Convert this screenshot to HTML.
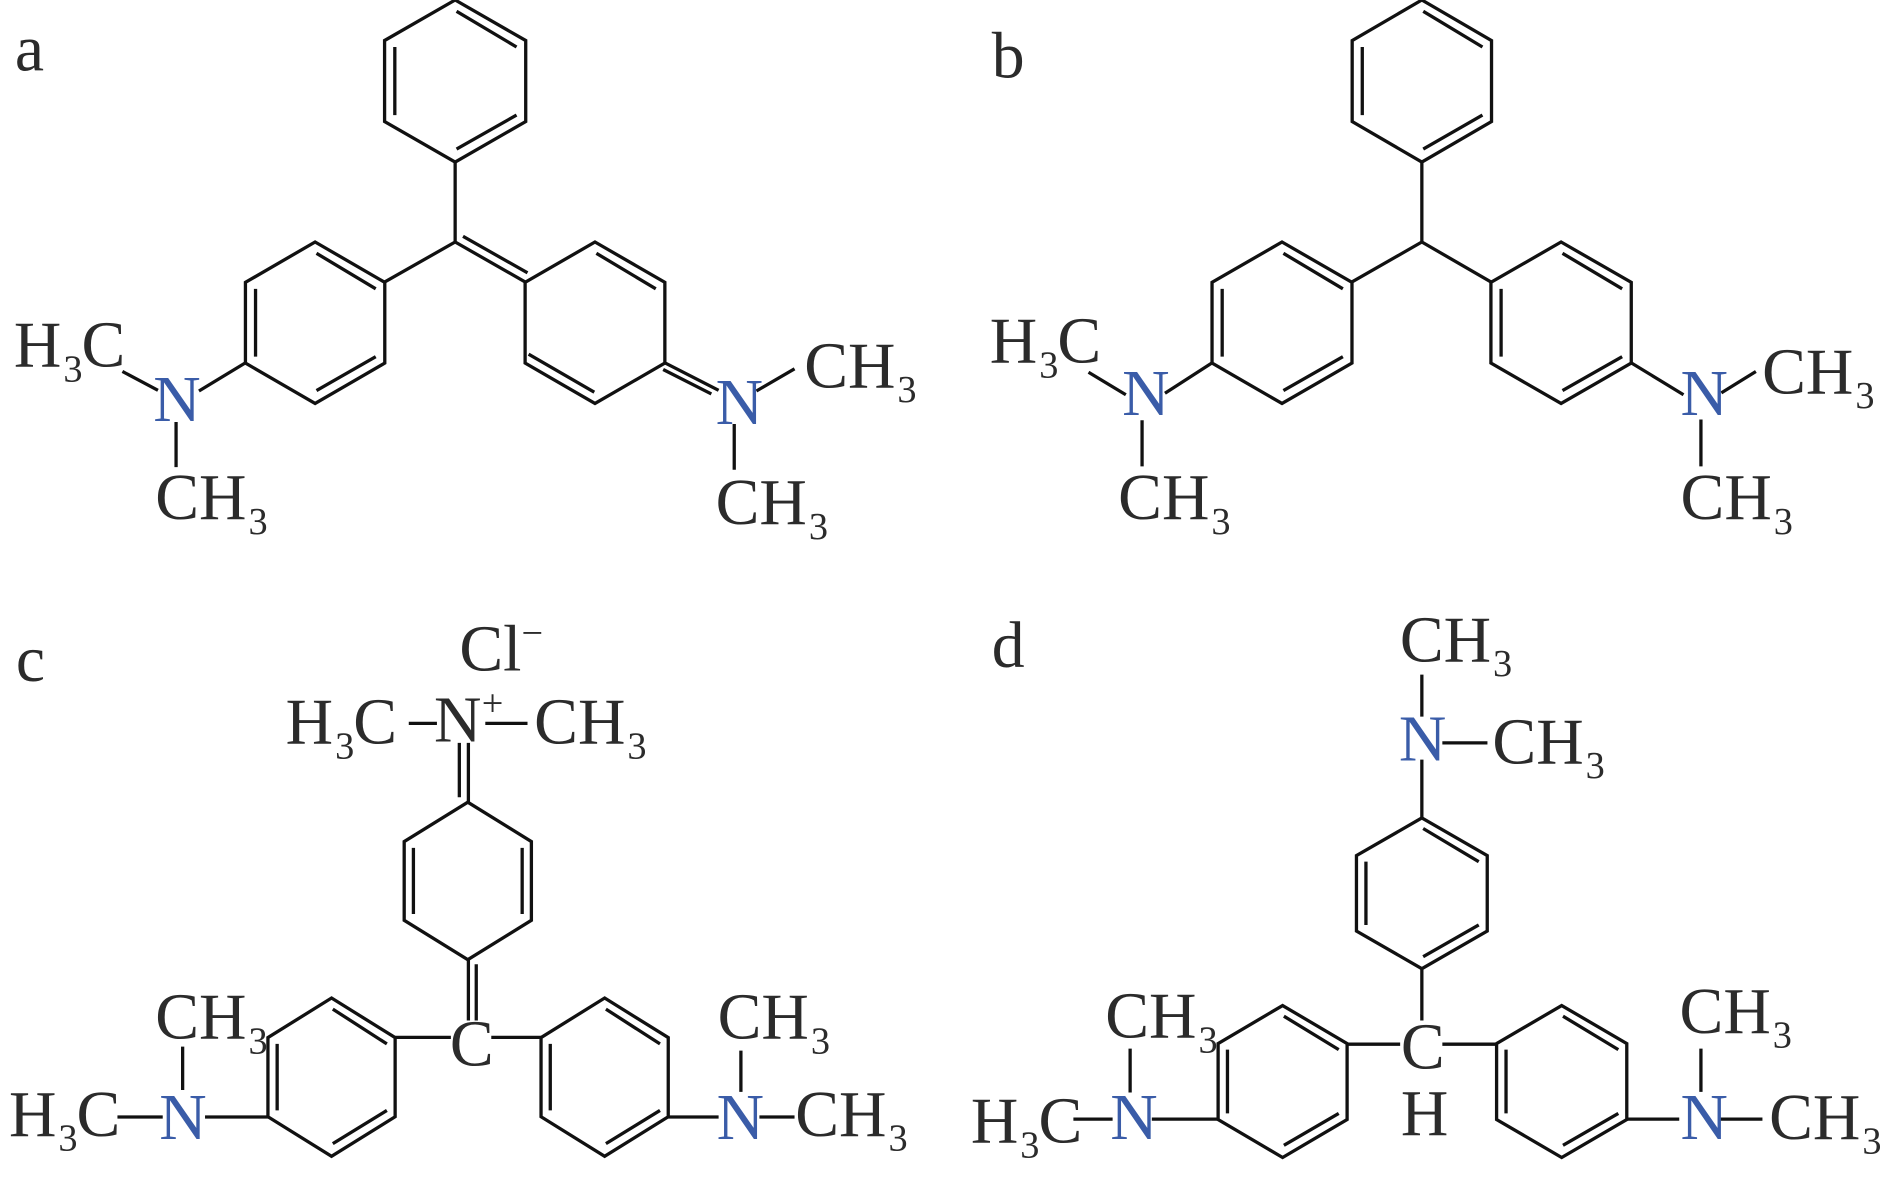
<!DOCTYPE html>
<html lang="en">
<head>
<meta charset="utf-8">
<title>Molecular structures a–d</title>
<style>
html,body{margin:0;padding:0;background:#fff;width:1890px;height:1178px;overflow:hidden}
svg{display:block}
text{font-family:"Liberation Serif",serif;font-size:66px;fill:#2b2b2b}
tspan.s,text.s{font-size:38.5px}
text.n{fill:#3a5ca8}
.b{stroke:#111;stroke-width:3.3;fill:none;stroke-linecap:butt;stroke-linejoin:miter}
</style>
</head>
<body>
<svg width="1890" height="1178" viewBox="0 0 1890 1178">
<defs>
<path id="hA" vector-effect="non-scaling-stroke" d="M0 -1L1 -.5V.5L0 1L-1 .5V-.5ZM.02 -.86L.87 -.42M-.855 -.42V.42M.87 .42L.02 .84"/>
<path id="hQ" vector-effect="non-scaling-stroke" d="M0 -1L1 -.5V.5L0 1L-1 .5V-.5ZM.02 -.86L.87 -.42M-.95 .39L-.01 .86"/>
<path id="hV" vector-effect="non-scaling-stroke" d="M0 -1L1 -.5V.5L0 1L-1 .5V-.5ZM-.855 -.42V.42M.855 -.42V.42"/>
</defs>

<!-- a -->
<g transform="scale(.9953 .9906)">
<g class="b">
<use href="#hA" transform="translate(457.3 81.8) scale(70.9 81.8)"/>
<use href="#hA" transform="translate(316.6 325.8) scale(70 81.5)"/>
<use href="#hQ" transform="translate(597.8 325.8) scale(70.2 81.5)"/>
<path d="M457.3 163.6V244.3M386.6 284.6L457.3 244.3L527.6 284.6M465.2 238.6L530 275.4"/>
<path d="M123 375L158.7 394M199.9 394.7L246.5 366.3M176.9 426V471.6"/>
<path d="M668 366.3L722 394M666.3 373L714.7 397.7M760 394.7L798.3 372.3M737.7 428V474.2"/>
</g>
<text x="15" y="71">a</text>
<text x="14" y="370">H<tspan class="s" dx="2" dy="15">3</tspan><tspan dx="-1" dy="-15">C</tspan></text>
<text class="n" x="154" y="425">N</text>
<text x="156" y="524">CH<tspan class="s" dx="2" dy="15">3</tspan></text>
<text class="n" x="719" y="428">N</text>
<text x="808" y="391">CH<tspan class="s" dx="2" dy="15">3</tspan></text>
<text x="719" y="529">CH<tspan class="s" dx="2" dy="15">3</tspan></text>
</g>

<!-- b -->
<g transform="translate(945 0) scale(.9953 .9906) translate(-945 0)">
<g class="b">
<use href="#hA" transform="translate(1424.1 81.8) scale(70 81.8)"/>
<use href="#hA" transform="translate(1283.6 325.8) scale(70.3 81.5)"/>
<use href="#hA" transform="translate(1564 325.8) scale(70.5 81.5)"/>
<path d="M1424.1 163.6V244.3M1353.9 284.6L1424.1 244.3L1493.5 284.6"/>
<path d="M1089.2 375.8L1126.7 398.5M1166 397L1213.3 366.3M1143 424.2V470.8"/>
<path d="M1634.5 366.3L1687 398.5M1725 396.6L1759.7 375M1704.5 423.5V470.8"/>
</g>
<text x="992" y="78">b</text>
<text x="990" y="366">H<tspan class="s" dx="2" dy="15">3</tspan><tspan dx="-1" dy="-15">C</tspan></text>
<text class="n" x="1123" y="419">N</text>
<text x="1119" y="524">CH<tspan class="s" dx="2" dy="15">3</tspan></text>
<text class="n" x="1684" y="419">N</text>
<text x="1766" y="397">CH<tspan class="s" dx="2" dy="15">3</tspan></text>
<text x="1684" y="524">CH<tspan class="s" dx="2" dy="15">3</tspan></text>
</g>

<!-- c -->
<g transform="translate(0 589) scale(.9953 .9906) translate(0 -589)">
<g class="b">
<use href="#hV" transform="translate(470 883.7) scale(63.9 79.5)"/>
<use href="#hA" transform="translate(333.1 1081.8) scale(63.9 79.9)"/>
<use href="#hA" transform="translate(607.5 1081.8) scale(63.9 79.9)"/>
<path d="M461.5 744.3V799.2M470.6 744.3V804.2M470.6 963.2V1024.6M478.5 967.8V1024.6"/>
<path d="M397.3 1041.6H453M493.6 1041.6H543.6"/>
<path d="M118 1122H163.5M206 1122H269.5M183.5 1051V1094.7"/>
<path d="M671 1122H722M763 1122H798.3M744.4 1055V1096.6"/>
<path d="M410.7 724.6H439M487.6 724.6H530"/>
</g>
<text x="16" y="682">c</text>
<text x="461.5" y="671.5">Cl</text>
<text class="s" x="524" y="646">−</text>
<text x="287" y="745">H<tspan class="s" dx="2" dy="15">3</tspan><tspan dx="-1" dy="-15">C</tspan></text>
<text x="436" y="743">N</text>
<text class="s" x="484" y="716.5">+</text>
<text x="536.7" y="745">CH<tspan class="s" dx="2" dy="15">3</tspan></text>
<text x="156" y="1043">CH<tspan class="s" dx="2" dy="15">3</tspan></text>
<text x="9" y="1141">H<tspan class="s" dx="2" dy="15">3</tspan><tspan dx="-1" dy="-15">C</tspan></text>
<text class="n" x="160" y="1144">N</text>
<text x="452" y="1070">C</text>
<text x="721" y="1043">CH<tspan class="s" dx="2" dy="15">3</tspan></text>
<text class="n" x="720" y="1144">N</text>
<text x="799" y="1141">CH<tspan class="s" dx="2" dy="15">3</tspan></text>
</g>

<!-- d -->
<g transform="translate(945 589) scale(.9953 .9906) translate(-945 -589)">
<g class="b">
<use href="#hA" transform="translate(1424.1 896.2) scale(65.7 76.1)"/>
<use href="#hA" transform="translate(1284.2 1086.2) scale(64.8 76.7)"/>
<use href="#hA" transform="translate(1564.6 1086.2) scale(65.4 76.7)"/>
<path d="M1424.1 675.4V717.8M1424.1 761.3V820M1444.7 744.3H1490M1424.1 972.3V1024.6"/>
<path d="M1349 1048.5H1402.3M1444.7 1048.5H1499.2"/>
<path d="M1074 1124.2H1113.4M1152.8 1124.2H1219.4M1131 1053V1097.3"/>
<path d="M1630 1124.2H1682.7M1723.3 1124.2H1766.3M1704.5 1053V1096.6"/>
</g>
<text x="992" y="668">d</text>
<text x="1402" y="662">CH<tspan class="s" dx="2" dy="15">3</tspan></text>
<text class="n" x="1401" y="762">N</text>
<text x="1495" y="765">CH<tspan class="s" dx="2" dy="15">3</tspan></text>
<text x="1403" y="1073">C</text>
<text x="1403" y="1140">H</text>
<text x="1106" y="1042">CH<tspan class="s" dx="2" dy="15">3</tspan></text>
<text x="971" y="1148">H<tspan class="s" dx="2" dy="15">3</tspan><tspan dx="-1" dy="-15">C</tspan></text>
<text class="n" x="1111" y="1144">N</text>
<text x="1683" y="1037">CH<tspan class="s" dx="2" dy="15">3</tspan></text>
<text class="n" x="1684" y="1144">N</text>
<text x="1773" y="1144">CH<tspan class="s" dx="2" dy="15">3</tspan></text>
</g>
</svg>
</body>
</html>
